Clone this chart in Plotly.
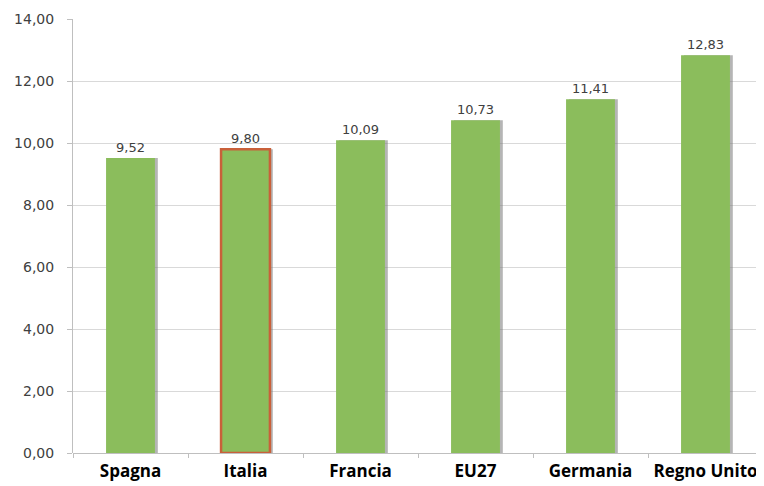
import plotly.graph_objects as go

categories = ["Spagna", "Italia", "Francia", "EU27", "Germania", "Regno Unito"]
values = [9.52, 9.80, 10.09, 10.73, 11.41, 12.83]
tick_vals = [0, 2, 4, 6, 8, 10, 12, 14]

bar_color = "#8BBD5C"
line_colors = ["#8BBD5C", "#C9603A", "#8BBD5C", "#8BBD5C", "#8BBD5C", "#8BBD5C"]
line_widths = [0, 2.5, 0, 0, 0, 0]

bar_w = 0.425
shift = 0.025

fig = go.Figure()
# soft shadow behind bars
fig.add_trace(go.Bar(
    x=categories,
    y=values,
    width=bar_w,
    offset=-bar_w / 2 + shift,
    marker=dict(color="rgba(120,120,120,0.55)", line=dict(width=0)),
    hoverinfo="skip",
))
fig.add_trace(go.Bar(
    x=categories,
    y=values,
    width=bar_w,
    offset=-bar_w / 2,
    marker=dict(color=bar_color, line=dict(color=line_colors, width=line_widths)),
    texttemplate="%{y:.2f}",
    textposition="outside",
    textfont=dict(family="DejaVu Sans", size=13, color="#404040"),
    cliponaxis=False,
))

fig.update_layout(
    width=764, height=486,
    margin=dict(l=65, r=9, t=11, b=41, autoexpand=False),
    plot_bgcolor="white", paper_bgcolor="white",
    separators=",.",
    showlegend=False,
    barmode="overlay",
    xaxis=dict(
        showline=False, showgrid=False, automargin=False,
        tickangle=0,
        ticks="outside", tickson="boundaries", ticklen=4, tickcolor="#BFBFBF",
        ticklabelstandoff=6,
        tickfont=dict(family="Open Sans", size=17, color="#000000", weight=700),
    ),
    yaxis=dict(
        range=[0, 14], tickvals=tick_vals, tickformat=".2f", automargin=False,
        showgrid=True, gridcolor="#D9D9D9", gridwidth=1,
        showline=True, linecolor="#BFBFBF", linewidth=1,
        ticks="outside", ticklen=5, tickcolor="#BFBFBF",
        ticklabelstandoff=10,
        zeroline=True, zerolinecolor="#BFBFBF", zerolinewidth=1,
        tickfont=dict(family="DejaVu Sans", size=14, color="#404040"),
    ),
)

fig.write_html("out.html")
